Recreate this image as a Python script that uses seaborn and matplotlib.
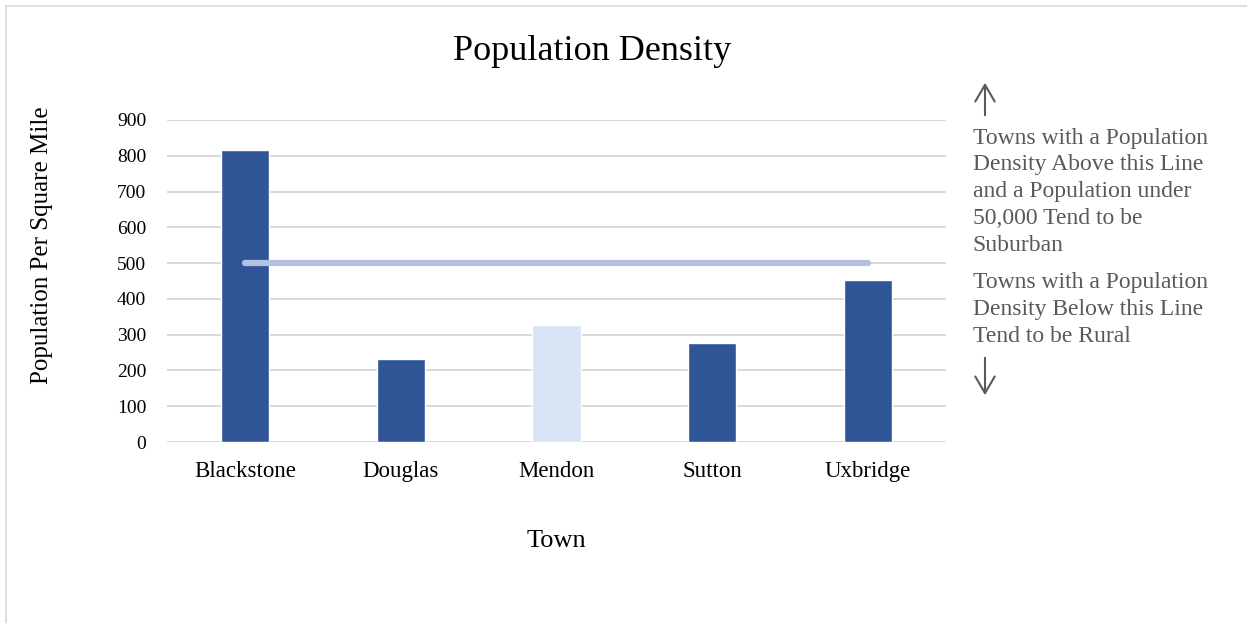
import pandas as pd
import seaborn as sns
import matplotlib.pyplot as plt
from matplotlib.patches import Rectangle

towns = ['Blackstone', 'Douglas', 'Mendon', 'Sutton', 'Uxbridge']
density = [815, 232, 328, 276, 453]
bar_colors = ['#2F5597', '#2F5597', '#DAE3F3', '#2F5597', '#2F5597']
threshold = 500
note_above = 'Towns with a Population\nDensity Above this Line\nand a Population under\n50,000 Tend to be\nSuburban'
note_below = 'Towns with a Population\nDensity Below this Line\nTend to be Rural'

df = pd.DataFrame({'town': towns, 'density': density})

sns.set_theme(style='white')
plt.rcParams['font.family'] = ['Liberation Serif', 'DejaVu Serif']
plt.rcParams['text.color'] = 'black'

fig = plt.figure(figsize=(12.47, 6.23), dpi=100)
ax = fig.add_axes([0.1339, 0.2905, 0.6247, 0.5169])

sns.barplot(data=df, x='town', y='density', hue='town',
            palette=dict(zip(towns, bar_colors)), legend=False,
            saturation=1, width=0.31, ax=ax, zorder=3)

# threshold line from first to last bar centre
ax.plot([0, len(towns) - 1], [threshold, threshold], color='#B4C0E0',
        lw=4.5, solid_capstyle='round', zorder=4)

ax.set_ylim(0, 900)
ax.set_xlim(-0.5, len(towns) - 0.5)
ax.set_yticks(range(0, 1000, 100))
ax.yaxis.grid(True, color='#D9D9D9', lw=1.4, zorder=0)
ax.set_axisbelow(True)
for s in ax.spines.values():
    s.set_visible(False)
ax.tick_params(axis='both', length=0, colors='black')
ax.tick_params(axis='y', pad=15, labelsize=14)
ax.tick_params(axis='x', pad=14, labelsize=16.5)

ax.set_xlabel('Town', fontsize=19, labelpad=34, color='black')
ax.set_ylabel('Population Per Square Mile', fontsize=18, labelpad=46, color='black')
ax.yaxis.label.set_y(0.61)
fig.text(0.475, 0.917, 'Population Density', fontsize=26,
         ha='center', va='center', color='black')

# side notes
fig.text(0.780, 0.795, note_above, fontsize=17, color='#595959',
         ha='left', va='top', linespacing=1.36)
fig.text(0.780, 0.563, note_below, fontsize=17, color='#595959',
         ha='left', va='top', linespacing=1.36)
arrow = dict(arrowstyle='->, head_width=0.35, head_length=0.6',
             color='#595959', lw=1.5, mutation_scale=20)
ax.annotate('', xy=(985, 543), xytext=(985, 505), xycoords='figure pixels',
            textcoords='figure pixels', arrowprops=arrow, annotation_clip=False)
ax.annotate('', xy=(985, 225), xytext=(985, 268), xycoords='figure pixels',
            textcoords='figure pixels', arrowprops=arrow, annotation_clip=False)

# chart frame
fig.patches.append(Rectangle((0.005, -0.01), 1.2, 1.0, transform=fig.transFigure,
                             fill=False, edgecolor='#D9D9D9', lw=1.2))

fig.savefig('out.png', dpi=100)
